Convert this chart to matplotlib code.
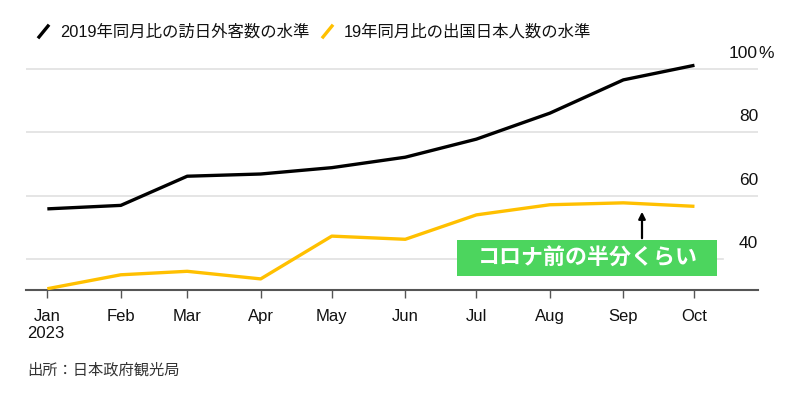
import matplotlib
matplotlib.use("Agg")
import matplotlib.pyplot as plt
import matplotlib.dates as mdates
from matplotlib.lines import Line2D
from matplotlib.patches import Rectangle
import datetime as dt

plt.rcParams['font.family'] = ['Liberation Sans', 'Noto Sans CJK JP', 'DejaVu Sans']

months = ["2023-01-01", "2023-02-01", "2023-03-01", "2023-04-01", "2023-05-01",
          "2023-06-01", "2023-07-01", "2023-08-01", "2023-09-01", "2023-10-01"]
month_labels = ["Jan\n2023", "Feb", "Mar", "Apr", "May", "Jun", "Jul", "Aug", "Sep", "Oct"]
inbound = [55.9, 57.0, 66.2, 66.9, 68.9, 72.2, 77.9, 86.1, 96.6, 101.2]
outbound = [30.7, 35.1, 36.2, 33.8, 47.3, 46.3, 54.0, 57.2, 57.8, 56.7]
yticks = [40, 60, 80, 100]
legend_labels = ["2019年同月比の訪日外客数の水準", "19年同月比の出国日本人数の水準"]
annotation_text = "コロナ前の半分くらい"
source_text = "出所：日本政府観光局"

BLACK = "#000000"
YELLOW = "#FFC000"
GREEN = "#4CD55E"
GRID = "#e0e0e0"

dates = [dt.datetime.strptime(m, "%Y-%m-%d") for m in months]
W, H = 795, 393
fig = plt.figure(figsize=(W / 100, H / 100), dpi=100)

ylo, yhi = 30.3, 102.5
px_per_unit = 63.4 / 20
top_px = 259.3 - (yhi - 40) * px_per_unit
ax = fig.add_axes([26 / W, (H - 290) / H, (758 - 26) / W, (290 - top_px) / H])

x0 = mdates.date2num(dates[0])
ax.set_xlim(x0 - 9, mdates.date2num(dates[-1]) + 26.8)
ax.set_ylim(ylo, yhi)

# gridlines
for v in yticks:
    xmax = 1.0 if v != 40 else (723 - 26) / (758 - 26)
    ax.axhline(v, color=GRID, lw=1.2, xmin=0, xmax=xmax, zorder=1)

ax.plot(dates, inbound, color=BLACK, lw=2.4, zorder=3, solid_capstyle='butt')
ax.plot(dates, outbound, color=YELLOW, lw=2.4, zorder=3, solid_capstyle='butt')

for s in ["top", "right", "left"]:
    ax.spines[s].set_visible(False)
ax.spines["bottom"].set_color("#555555")
ax.spines["bottom"].set_linewidth(1.5)
ax.set_yticks([])
ax.set_xticks(dates)
ax.set_xticklabels([m.split("\n")[0] for m in month_labels], fontsize=12, color="#111111")
ax.tick_params(axis='x', length=6, width=1, color="#555555", pad=8)

# "2023" under Jan
fig.text(27 / W, 1 - 333 / H, month_labels[0].split("\n")[1], fontsize=12, color="#111111",
         ha='left', va='center')

# y labels
for v in yticks:
    ax.annotate(str(v), xy=(1.0, v), xycoords=('axes fraction', 'data'),
                xytext=(0, 6), textcoords='offset points', ha='right', va='bottom',
                fontsize=12.5, color="#111111", annotation_clip=False)
ax.annotate("%", xy=(1.0, 100), xycoords=('axes fraction', 'data'),
            xytext=(0.5, 6), textcoords='offset points', ha='left', va='bottom',
            fontsize=12.5, color="#111111", annotation_clip=False)

# legend
def fx(px):
    return px / W

def fy(py):
    return 1 - py / H

fig.add_artist(Line2D([fx(39), fx(48)], [fy(37), fy(26)], color=BLACK, lw=2.4))
fig.text(fx(60), fy(32), legend_labels[0], fontsize=11.8, color="#111111", ha='left', va='center')
fig.add_artist(Line2D([fx(323), fx(332)], [fy(37), fy(26)], color=YELLOW, lw=2.4))
fig.text(fx(344), fy(32), legend_labels[1], fontsize=11.8, color="#111111", ha='left', va='center')

# annotation box
fig.add_artist(Rectangle((fx(457), fy(276)), (717 - 457) / W, (276 - 240) / H,
                         facecolor=GREEN, edgecolor='none', zorder=5))
fig.text(fx(588), fy(258.5), annotation_text, fontsize=15.8, color="white", fontweight='bold',
         ha='center', va='center', zorder=6)
fig.add_artist(matplotlib.patches.FancyArrowPatch((fx(642), fy(241)), (fx(642), fy(209)),
                                                  transform=fig.transFigure,
                                                  arrowstyle='-|>', mutation_scale=10,
                                                  color=BLACK, lw=1.6, zorder=6))

fig.text(fx(27), fy(370), source_text, fontsize=11, color="#333333", ha='left', va='center')

fig.savefig("out.png", dpi=100)
